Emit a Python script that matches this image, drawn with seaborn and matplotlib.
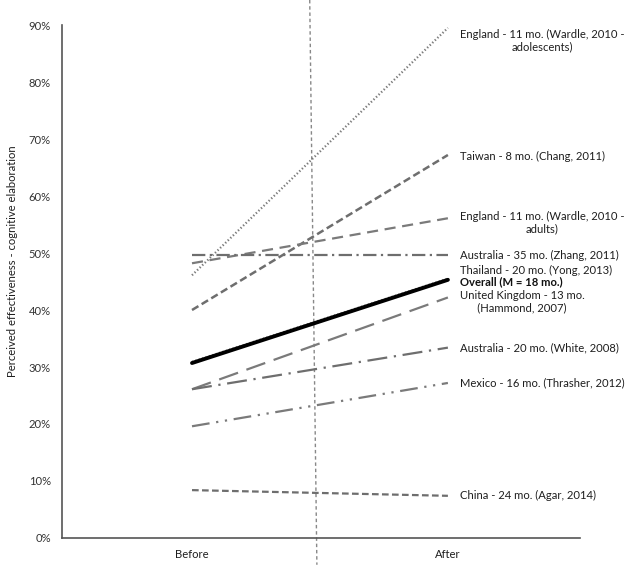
import matplotlib
matplotlib.use("Agg")
import matplotlib.pyplot as plt
import seaborn as sns
import pandas as pd

sns.set_theme(style="white")
plt.rcParams['font.family'] = ['Lato', 'DejaVu Sans']

periods = ["Before", "After"]
studies = [
    "England - 11 mo. (Wardle, 2010 -\nadolescents)",
    "Taiwan - 8 mo. (Chang, 2011)",
    "England - 11 mo. (Wardle, 2010 -\nadults)",
    "Australia - 35 mo. (Zhang, 2011)",
    "Thailand - 20 mo. (Yong, 2013)",
    "United Kingdom - 13 mo.\n      (Hammond, 2007)",
    "Australia - 20 mo. (White, 2008)",
    "Mexico - 16 mo. (Thrasher, 2012)",
    "China - 24 mo. (Agar, 2014)",
    "Overall (M = 18 mo.)",
]
before = [0.461, 0.400, 0.482, 0.496, 0.309, 0.261, 0.261, 0.196, 0.084, 0.307]
after = [0.895, 0.672, 0.561, 0.496, 0.455, 0.422, 0.334, 0.272, 0.074, 0.453]
ytick_labels = ["0%", "10%", "20%", "30%", "40%", "50%", "60%", "70%", "80%", "90%"]

styles = [
    dict(ls=(0, (0.6, 1.0)), lw=1.6, c="#7a7a7a"),
    dict(ls=(0, (3, 1.5)), lw=1.8, c="#6e6e6e"),
    dict(ls=(0, (5, 3)), lw=1.6, c="#7a7a7a"),
    dict(ls=(0, (6, 2, 1, 2)), lw=1.6, c="#6e6e6e"),
    dict(ls=(0, (0.6, 1.0)), lw=1.6, c="#7a7a7a"),
    dict(ls=(0, (9, 4)), lw=1.6, c="#7a7a7a"),
    dict(ls=(0, (9, 3, 1, 3)), lw=1.6, c="#6e6e6e"),
    dict(ls=(0, (8, 3, 1, 3, 1, 3)), lw=1.6, c="#7a7a7a"),
    dict(ls=(0, (3, 1.5)), lw=1.6, c="#6e6e6e"),
    dict(ls="-", lw=2.8, c="#000000"),
]
label_y = [0.872, 0.670, 0.553, 0.496, 0.470, 0.414, 0.334, 0.272, 0.074, 0.449]

fig = plt.figure(figsize=(6.29, 5.69), dpi=100)
ax = fig.add_axes([0.0986, 0.0545, 0.8234, 0.9015])

for i, name in enumerate(studies):
    df = pd.DataFrame({"x": [0, 1], "y": [before[i], after[i]]})
    st = styles[i]
    sns.lineplot(data=df, x="x", y="y", ax=ax, color=st["c"], linewidth=st["lw"],
                 linestyle=st["ls"], zorder=3 if i == 9 else 2)

FS = 8.1
for i, name in enumerate(studies):
    bold = (i == 9)
    ax.text(1.047, label_y[i], name, ha="left", va="center", fontsize=FS,
            multialignment="center" if i in (0, 2) else "left",
            color="#111111" if bold else "#1e1e1e",
            fontweight="bold" if bold else "normal", linespacing=1.15)

# separator
ax.plot([0.46, 0.488], [0.944, -0.047], color="#888888", lw=1.0,
        ls=(0, (2.5, 2)), clip_on=False, zorder=1)

ax.set_xlim(-0.508, 1.516)
ax.set_ylim(0, 0.9)
ax.set_xticks([0, 1])
ax.set_xticklabels(periods, fontsize=FS, color="#1e1e1e")
ax.set_yticks([i / 10 for i in range(10)])
ax.set_yticklabels(ytick_labels, fontsize=FS, color="#333333")
ax.tick_params(axis="both", length=0, pad=8)
ax.set_xlabel("")
ax.set_ylabel("Perceived effectiveness - cognitive elaboration", fontsize=8.1,
              color="#1e1e1e", va="center")
ax.yaxis.set_label_coords(-0.096, 0.54)
for s in ["top", "right"]:
    ax.spines[s].set_visible(False)
for s in ["left", "bottom"]:
    ax.spines[s].set_color("#555555")
    ax.spines[s].set_linewidth(1.2)

fig.savefig("out.png", dpi=100)
